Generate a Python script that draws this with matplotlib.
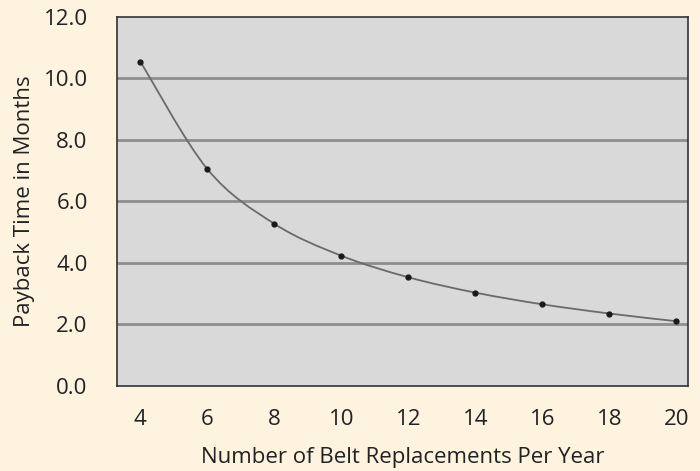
import matplotlib.pyplot as plt
from matplotlib.path import Path
from matplotlib.patches import PathPatch

plt.rcParams['font.family'] = ['Open Sans', 'DejaVu Sans']

# belt replacements per year vs payback time (months)
replacements = [4, 6, 8, 10, 12, 14, 16, 18, 20]
payback = [10.55, 7.05, 5.27, 4.23, 3.53, 3.03, 2.65, 2.35, 2.10]
y_ticks = [0, 2, 4, 6, 8, 10, 12]
x_ticks = [4, 6, 8, 10, 12, 14, 16, 18, 20]

fig = plt.figure(figsize=(7, 4.71), dpi=100, facecolor='#fdf3df')
ax = fig.add_axes([0.167, 0.181, 0.816, 0.783])
ax.set_facecolor('#d9d9d9')

ax.set_xlim(3.3, 20.35)
ax.set_ylim(0, 11.78)

for v in y_ticks[1:-1]:
    ax.axhline(v, color='#8e8e8e', lw=2.0, zorder=1)

# smooth curve through the points (Catmull-Rom as cubic bezier segments)
verts = [(replacements[0], payback[0])]
codes = [Path.MOVETO]
n = len(replacements)
for i in range(n - 1):
    x0, y0 = replacements[max(i - 1, 0)], payback[max(i - 1, 0)]
    x1, y1 = replacements[i], payback[i]
    x2, y2 = replacements[i + 1], payback[i + 1]
    x3, y3 = replacements[min(i + 2, n - 1)], payback[min(i + 2, n - 1)]
    verts += [(x1 + (x2 - x0) / 6, y1 + (y2 - y0) / 6),
              (x2 - (x3 - x1) / 6, y2 - (y3 - y1) / 6),
              (x2, y2)]
    codes += [Path.CURVE4] * 3
ax.add_patch(PathPatch(Path(verts, codes), fill=False, edgecolor='#6a6a6a', lw=1.3, zorder=2))
ax.plot(replacements, payback, 'o', color='#1a1a1a', ms=3.5, zorder=3)

ax.set_xticks(x_ticks)
ax.set_xticklabels([str(t) for t in x_ticks])
ax.set_yticks(y_ticks)
ax.set_yticklabels(['%.1f' % t for t in y_ticks])
ax.tick_params(length=0, labelsize=16, colors='#222222')
ax.tick_params(axis='x', pad=17)
ax.tick_params(axis='y', pad=21)

for s in ax.spines.values():
    s.set_color('#333333')
    s.set_linewidth(1.2)

ax.set_xlabel('Number of Belt Replacements Per Year', fontsize=16, color='#222222', labelpad=12)
ax.set_ylabel('Payback Time in Months', fontsize=16, color='#222222', labelpad=6)

fig.savefig('out.png', dpi=100, facecolor=fig.get_facecolor())
